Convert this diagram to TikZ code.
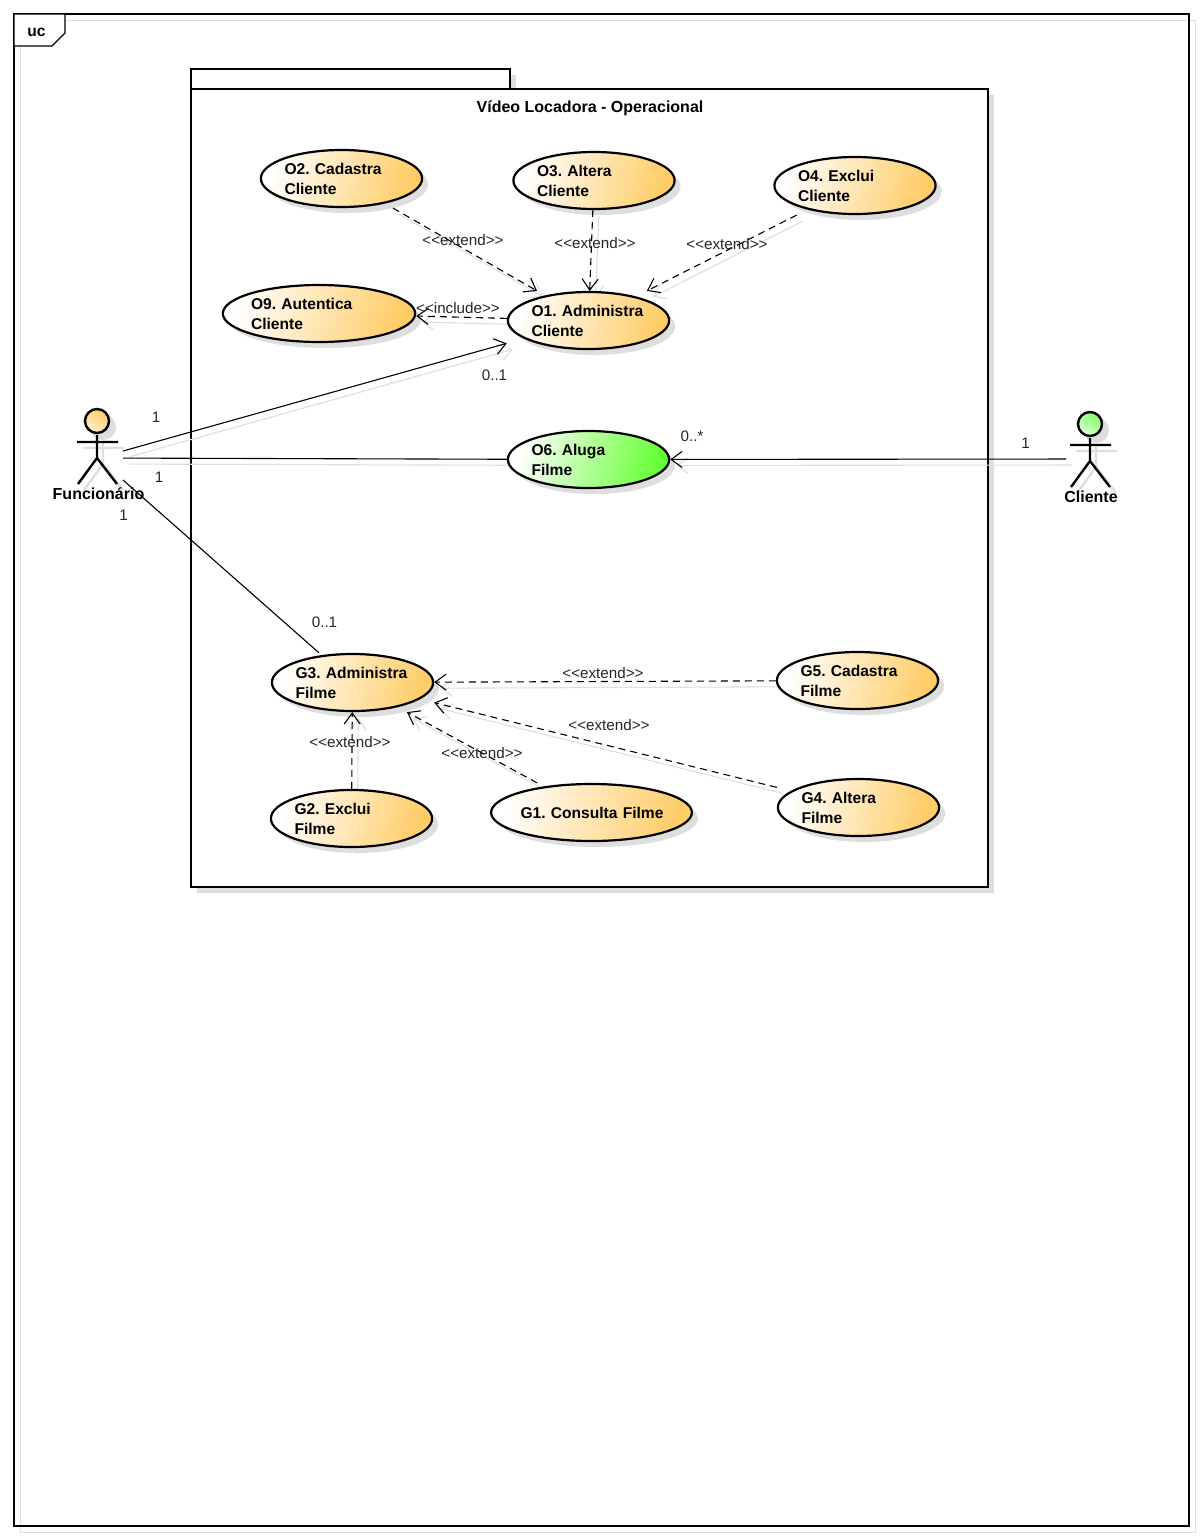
\documentclass[tikz,border=0pt]{standalone}
\usepackage{fontspec}
\setmainfont{Liberation Sans}[Ligatures=TeXOff]
\usetikzlibrary{arrows.meta,shapes.geometric,shadows,fit}
\pgfdeclarelayer{framelayer}
\pgfdeclarelayer{linelayer}
\pgfsetlayers{framelayer,linelayer,main}
\definecolor{orangefill}{RGB}{255,204,102}
\definecolor{greenfill}{RGB}{102,255,51}
\definecolor{headgreen}{RGB}{130,255,100}
\definecolor{shadowgray}{RGB}{222,222,222}
\frenchspacing
\tikzset{
  boldtext/.style={font=\fontsize{15.6pt}{20pt}\selectfont\bfseries},
  titletext/.style={font=\fontsize{16pt}{20pt}\selectfont\bfseries},
  usecase/.style={ellipse,draw,line width=2.2pt,inner sep=0pt,boldtext,align=left,minimum height=57pt,
    left color=white,right color=#1,shading angle=75,
    drop shadow={shadow xshift=6pt,shadow yshift=-6pt,opacity=1,fill=shadowgray}},
  usecase/.default=orangefill,
  wide/.style={text width=114pt},
  hitbox/.style={inner sep=0pt,outer sep=0pt},
  assoc/.style={draw=black,line width=1.1pt},
  depend/.style={assoc,->,dash pattern=on 7pt off 5pt},
  ghost/.style={draw=shadowgray,line width=1.1pt,transform canvas={shift={(6pt,-6pt)}}},
  ghostarrow/.style={ghost,->},
  tag/.style={text=black!85},
  actorbox/.style={minimum width=50pt,minimum height=100pt,inner sep=0pt,outer sep=0pt},
}
\newcommand{\stickman}[3]{
  \begin{scope}[shift={(#1,#2)}]
    \draw[draw=shadowgray,line width=2.4pt] (6,20) -- (6,43) (-14,27) -- (27,27) (6,43) -- (-13,69) (6,43) -- (26,69);
    \fill[shadowgray] (6,6) circle (13);
    \draw[line width=2.4pt] (0,14) -- (0,37) (-20,21) -- (21,21) (0,37) -- (-19,63) (0,37) -- (20,63);
    \draw[line width=2.4pt,top color=#3,bottom color=#3!30,shading angle=-30] (0,0) circle (12);
  \end{scope}
}
\begin{document}
\begin{tikzpicture}[x=1pt,y=-1pt,>={Straight Barb[length=11pt,width=16pt]},font=\fontsize{15.2pt}{20pt}\selectfont]
\useasboundingbox (0,0) rectangle (1202,1540);

\begin{pgfonlayer}{framelayer}
\draw[shadowgray,line width=1pt] (20,20) rectangle (1195,1532);
\draw[line width=1.1pt] (14,14) rectangle (1189,1526);
\draw[line width=1.1pt,fill=white] (14,14) -- (65,14) -- (65,33) -- (52,46) -- (14,46) -- cycle;
\fill[shadowgray] (197,95) rectangle (994,893);
\fill[shadowgray] (197,75) rectangle (516,95);
\draw[line width=2.6pt,fill=white] (191,69) rectangle (510,89);
\draw[line width=2.6pt,fill=white] (191,89) rectangle (988,887);
\end{pgfonlayer}
\node[boldtext] (uclabel) at (36.5,32) {uc};
\node[titletext] (packagetitle) at (590,108) {Vídeo Locadora - Operacional};

\node[usecase,wide] (O2) at (341.5,178.5) {O2. Cadastra\\Cliente};
\node[usecase,wide] (O3) at (594,180.5) {O3. Altera\\Cliente};
\node[usecase,wide] (O4) at (855,185.5) {O4. Exclui\\Cliente};
\node[usecase,text width=136pt] (O9) at (319,313.5) {O9. Autentica\\Cliente};
\node[usecase,wide] (O1) at (588.5,320.5) {O1. Administra\\Cliente};
\node[usecase=greenfill,wide] (O6) at (588.5,459.5) {O6. Aluga\\Filme};
\node[usecase,wide] (G3) at (352.5,682.5) {G3. Administra\\Filme};
\node[usecase,wide] (G5) at (857.5,680.5) {G5. Cadastra\\Filme};
\node[usecase,wide] (G4) at (858.5,807.5) {G4. Altera\\Filme};
\node[usecase,wide] (G2) at (351.5,818.5) {G2. Exclui\\Filme};
\node[usecase,text width=142pt,align=center] (G1) at (591.5,812.5) {\raisebox{-2pt}{G1. Consulta Filme}};
\foreach \uc in {O1,O2,O3,O4,O6,O9,G1,G2,G3,G4,G5}
  \node[hitbox,fit=(\uc)] (\uc-box) {};

\stickman{97}{421}{orangefill}
\stickman{1090}{424}{headgreen}
\node[actorbox] (funcionario) at (98,458) {};
\node[actorbox] (cliente) at (1091,459) {};
\node[titletext] (funcionariolabel) at (98.5,494) {Funcionário};
\node[titletext] (clientelabel) at (1091,497) {Cliente};

\begin{pgfonlayer}{linelayer}
\draw[ghostarrow] (O2-box) -- (O1-box);
\draw[ghostarrow] (O3-box) -- (O1-box);
\draw[ghostarrow] (O4-box) -- (O1-box);
\draw[ghostarrow] (O1-box) -- (O9-box);
\draw[ghostarrow] (funcionario) -- (O1-box);
\draw[ghost] (funcionario) -- (O6-box);
\draw[ghostarrow] (cliente) -- (O6-box);
\draw[ghostarrow] (G5-box) -- (G3-box);
\draw[ghostarrow] (G4-box) -- (G3-box);
\draw[ghostarrow] (G1-box) -- (G3-box);
\draw[ghostarrow] (G2-box) -- (G3-box);
\end{pgfonlayer}

\draw[depend] (O2-box) -- (O1-box);
\draw[depend] (O3-box) -- (O1-box);
\draw[depend] (O4-box) -- (O1-box);
\draw[depend] (O1-box) -- (O9-box);
\draw[assoc,->] (funcionario) -- (O1-box);
\draw[assoc] (funcionario) -- (O6-box);
\draw[assoc,->] (cliente) -- (O6-box);
\draw[assoc] (funcionario) -- (G3-box);
\draw[depend] (G5-box) -- (G3-box);
\draw[depend] (G4-box) -- (G3-box);
\draw[depend] (G1-box) -- (G3-box);
\draw[depend] (G2-box) -- (G3-box);

\node[tag] (extendA) at (463,240) {<<extend>>};
\node[tag] (extendB) at (595,243) {<<extend>>};
\node[tag] (extendC) at (727,244) {<<extend>>};
\node[tag] (includeA) at (458,308) {<<include>>};
\node[tag] (extendD) at (603,673) {<<extend>>};
\node[tag] (extendE) at (609,725) {<<extend>>};
\node[tag] (extendF) at (482,753) {<<extend>>};
\node[tag] (extendG) at (350,742) {<<extend>>};
\node[tag] (multA) at (156,417) {1};
\node[tag] (multB) at (494.5,375) {0..1};
\node[tag] (multC) at (159,477) {1};
\node[tag] (multD) at (123.5,515) {1};
\node[tag] (multE) at (324.5,622) {0..1};
\node[tag] (multF) at (692,436) {0..*};
\node[tag] (multG) at (1025.5,443) {1};
\end{tikzpicture}
\end{document}
